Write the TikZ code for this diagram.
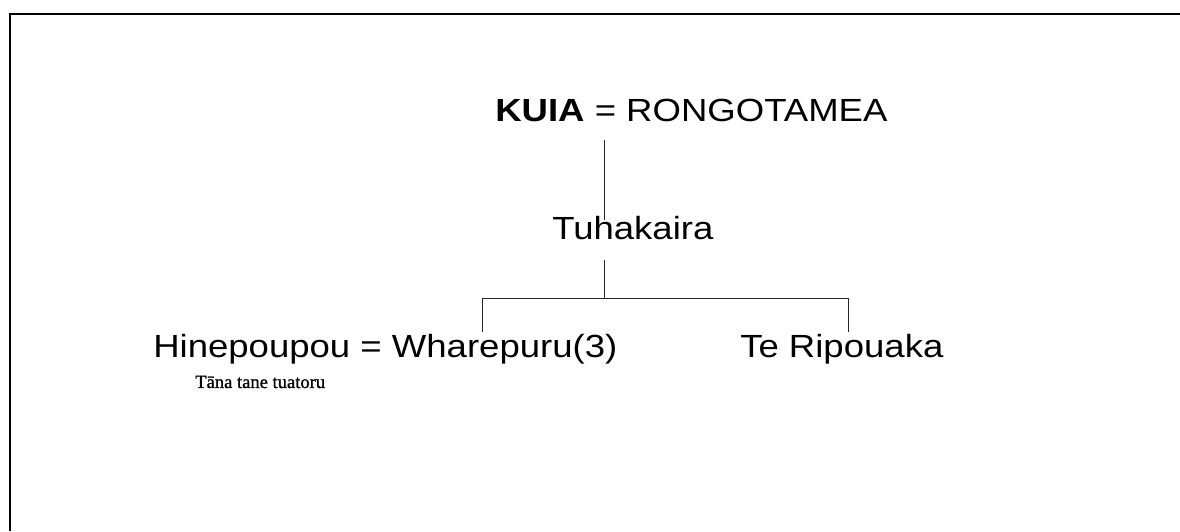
\documentclass[tikz,border=0pt]{standalone}
\usepackage{fontspec}
\setmainfont{Liberation Sans}[FakeStretch=1.14]
\newfontfamily\notefont{Liberation Serif}[FakeBold=1.2]
\usetikzlibrary{calc, positioning}

\begin{document}
\begin{tikzpicture}[
    person/.style={anchor=base west, inner sep=0pt, font=\fontsize{22.8}{27}\selectfont},
    subnote/.style={anchor=base west, inner sep=0pt, font=\notefont\fontsize{13.2}{15}\selectfont},
    descent/.style={line width=.6pt, black!85}]
		\useasboundingbox (0,0) rectangle (29.5,13.275);
		% frame (left and top only)
		\draw[line width=2.1pt] (0.25,0) -- (0.25,12.925) -- (29.5,12.925);

		\node[person] (kuia) at (12.375,10.225) {\textbf{KUIA} = RONGOTAMEA};
		\node[person] (tuha) at (13.8,7.275) {Tuhakaira};
		\node[person] (hine) at (3.825,4.325) {Hinepoupou = Wharepuru(3)};
		\node[person] (ripo) at (18.5,4.325) {Te Ripouaka};
		\node[subnote] (tane) at (4.875,3.575) {Tāna tane tuatoru};

		\coordinate (stem) at (15.1,5.825);
		\coordinate (barL) at (12.05,5.825);
		\coordinate (barR) at (21.2,5.825);

		\draw[descent] ([yshift=-.45cm]kuia.base -| stem) -- ([yshift=-.08cm]tuha.north -| stem);
		\draw[descent] ([yshift=-.5cm]tuha.base -| stem) -- (stem);
		\draw[descent] ([yshift=.05cm]hine.north -| barL) -- (barL) -- (barR) -- ([yshift=.05cm]ripo.north -| barR);
\end{tikzpicture}
\end{document}
